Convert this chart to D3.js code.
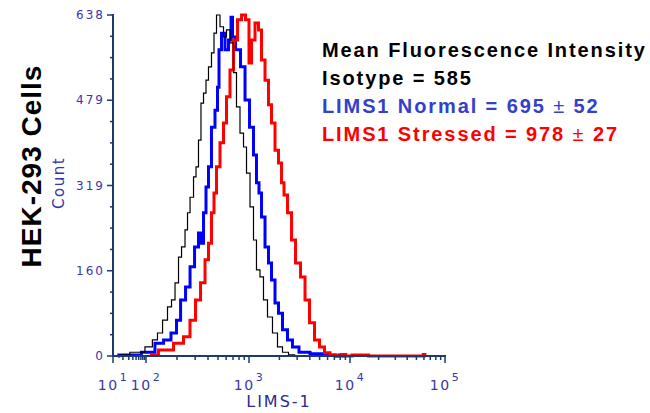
<!DOCTYPE html>
<html>
<head>
<meta charset="utf-8">
<script src="https://cdn.jsdelivr.net/npm/d3@7"></script>
<style>
  body { margin: 0; background: #fff; }
  svg { display: block; }
</style>
</head>
<body>
<svg id="plot"></svg>
<script>
const width = 650;
const height = 413;

// histogram data: [fluorescence, count]
const isotype = [
  [16,2],[66,7],[109,17],[122,30],[137,43],[153,67],[171,92],[183,105],[200,137],
  [214,185],[229,204],[250,236],[256,268],[280,297],[299,335],[313,354],[334,404],
  [350,473],[374,492],[391,516],[418,541],[447,567],[468,604],[500,638],[547,616],
  [585,597],[625,610],[684,586],[731,530],[782,466],[855,417],[915,391],[978,342],
  [1071,279],[1146,217],[1227,161],[1345,148],[1439,105],[1614,73],[1808,43],
  [2028,17],[2271,7],[2667,2],[3000,0]
];
const normal = [
  [14,0],[16,2],[40,2],[109,7],[137,24],[160,30],[191,43],[205,67],[229,105],[256,129],
  [280,167],[313,204],[334,230],[350,211],[374,268],[391,316],[418,354],[447,428],
  [489,460],[500,503],[523,573],[560,604],[611,573],[655,591],[684,634],[700,597],
  [782,573],[875,541],[957,479],[1071,428],[1146,376],[1227,324],[1285,305],
  [1377,260],[1507,204],[1614,174],[1729,142],[1893,99],[2028,80],[2271,49],
  [2547,30],[2851,17],[3428,7],[4710,4],[6791,2],[7500,0],[8200,2],[9000,0]
];
const stressed = [
  [109,2],[160,11],[214,24],[250,36],[286,67],[320,105],[358,137],[391,180],
  [418,211],[447,268],[468,305],[500,354],[547,399],[585,436],[625,485],[684,535],
  [731,591],[819,629],[875,638],[978,629],[1023,548],[1096,591],[1200,623],
  [1285,610],[1377,554],[1507,516],[1614,470],[1729,436],[1893,385],[2028,361],
  [2173,324],[2271,301],[2547,268],[2730,217],[3055,174],[3428,148],[3750,105],
  [4207,62],[4710,30],[5284,17],[5918,6],[6791,2],[7800,0],[8600,3],[9600,0],
  [11500,2],[14500,2],[17000,0],[58000,0],[60000,3],[63000,0]
];

const xDecades = [10, 100, 1000, 10000, 100000];
const xDecadeLabels = ["1", "2", "3", "4", "5"];
const yMax = 638;
const yTickLabels = ["0", "160", "319", "479", "638"];

const legendLines = [
  {parts: ["Mean Fluorescence Intensity"], color: "#000000"},
  {parts: ["Isotype = 585"], color: "#000000"},
  {parts: ["LIMS1 Normal = 695 ", "\u00b1", " 52"], color: "#3340cc"},
  {parts: ["LIMS1 Stressed = 978 ", "\u00b1", " 27"], color: "#ff0000"}
];

const axisColor = "#1d3a6c";
const labelColor = "#3838a8";

let svg = d3.select('svg#plot')
  .attr('width', width)
  .attr('height', height);

// first decade is squeezed, like the cytometer software
let sx = d3.scaleLog()
  .domain(xDecades)
  .range([113, 146, 249, 350, 445]);

let sy = d3.scaleLinear()
  .domain([0, yMax])
  .range([356, 15]);

// ---- curves
let line = d3.line()
  .x(d => sx(d[0]))
  .y(d => sy(d[1]))
  .curve(d3.curveStep);

svg.append('path').datum(normal)
  .attr('d', line).attr('fill', 'none')
  .attr('stroke', '#0000ff').attr('stroke-width', 3);
svg.append('path').datum(stressed)
  .attr('d', line).attr('fill', 'none')
  .attr('stroke', '#ff0000').attr('stroke-width', 3);
svg.append('path').datum(isotype)
  .attr('d', line).attr('fill', 'none')
  .attr('stroke', '#000').attr('stroke-width', 1.2);

// ---- y axis
let yTicks = d3.range(17).map(i => i * yMax / 16);
svg.selectAll('.ytick')
  .data(yTicks)
  .enter()
  .append('line')
  .attr('class', 'ytick')
  .attr('x1', (d,i) => i % 4 == 0 ? 107 : 110)
  .attr('x2', 113)
  .attr('y1', d => sy(d))
  .attr('y2', d => sy(d))
  .attr('stroke', axisColor)
  .attr('stroke-width', 1.5);

svg.selectAll('.ylabel')
  .data(yTickLabels)
  .enter()
  .append('text')
  .attr('class', 'ylabel')
  .attr('x', 105)
  .attr('y', (d,i) => sy(i * yMax / 4) + 4)
  .attr('text-anchor', 'end')
  .attr('font-family', 'DejaVu Sans')
  .attr('font-size', 12)
  .attr('letter-spacing', 2)
  .attr('fill', labelColor)
  .text(d => d);

// ---- x axis minor + major ticks
let xTicks = [];
for (let k = 0; k < xDecades.length - 1; k++) {
  for (let m = 1; m < 10; m++) {
    let v = xDecades[k] * m;
    if (sx(v) <= 445) xTicks.push({v: v, major: m == 1});
  }
}
xTicks.push({v: 100000, major: true});
svg.selectAll('.xtick')
  .data(xTicks)
  .enter()
  .append('line')
  .attr('class', 'xtick')
  .attr('x1', d => sx(d.v))
  .attr('x2', d => sx(d.v))
  .attr('y1', 356)
  .attr('y2', d => d.major ? 363 : 360)
  .attr('stroke', axisColor)
  .attr('stroke-width', 1.5);

let xl = svg.selectAll('.xlabel')
  .data(xDecades)
  .enter()
  .append('text')
  .attr('class', 'xlabel')
  .attr('x', d => sx(d))
  .attr('y', 390)
  .attr('text-anchor', 'middle')
  .attr('font-family', 'DejaVu Sans')
  .attr('font-size', 14)
  .attr('letter-spacing', 1.5)
  .attr('fill', labelColor);
xl.append('tspan').text('10');
xl.append('tspan')
  .attr('dy', -9)
  .attr('dx', 1)
  .attr('font-size', 11)
  .text((d,i) => xDecadeLabels[i]);

// axis lines
svg.append('line')
  .attr('x1', 113).attr('x2', 113)
  .attr('y1', 14).attr('y2', 357)
  .attr('stroke', axisColor).attr('stroke-width', 2);
svg.append('line')
  .attr('x1', 112).attr('x2', 446)
  .attr('y1', 356).attr('y2', 356)
  .attr('stroke', axisColor).attr('stroke-width', 2);

// axis titles
svg.append('text')
  .attr('x', 279).attr('y', 407)
  .attr('text-anchor', 'middle')
  .attr('font-family', 'DejaVu Sans')
  .attr('font-size', 16)
  .attr('letter-spacing', 2)
  .attr('fill', '#2b2b90')
  .text('LIMS-1');

svg.append('text')
  .attr('transform', 'translate(64,183) rotate(-90)')
  .attr('text-anchor', 'middle')
  .attr('font-family', 'DejaVu Sans')
  .attr('font-size', 15)
  .attr('letter-spacing', 1.5)
  .attr('fill', '#3333b0')
  .text('Count');

svg.append('text')
  .attr('transform', 'translate(41,166) rotate(-90)')
  .attr('text-anchor', 'middle')
  .attr('font-family', 'Liberation Sans, Arial, sans-serif')
  .attr('font-weight', 'bold')
  .attr('font-size', 28)
  .attr('letter-spacing', 1)
  .attr('fill', '#000')
  .text('HEK-293 Cells');

// ---- legend text
let leg = svg.selectAll('.legend')
  .data(legendLines)
  .enter()
  .append('text')
  .attr('class', 'legend')
  .attr('x', 322)
  .attr('y', (d,i) => 57 + i * 28)
  .attr('font-family', 'Liberation Sans, Arial, sans-serif')
  .attr('font-weight', 'bold')
  .attr('font-size', 20)
  .attr('letter-spacing', 1.9)
  .attr('fill', d => d.color);
leg.selectAll('tspan')
  .data(d => d.parts)
  .enter()
  .append('tspan')
  .attr('font-weight', d => d == '\u00b1' ? 'normal' : 'bold')
  .text(d => d);
</script>
</body>
</html>
